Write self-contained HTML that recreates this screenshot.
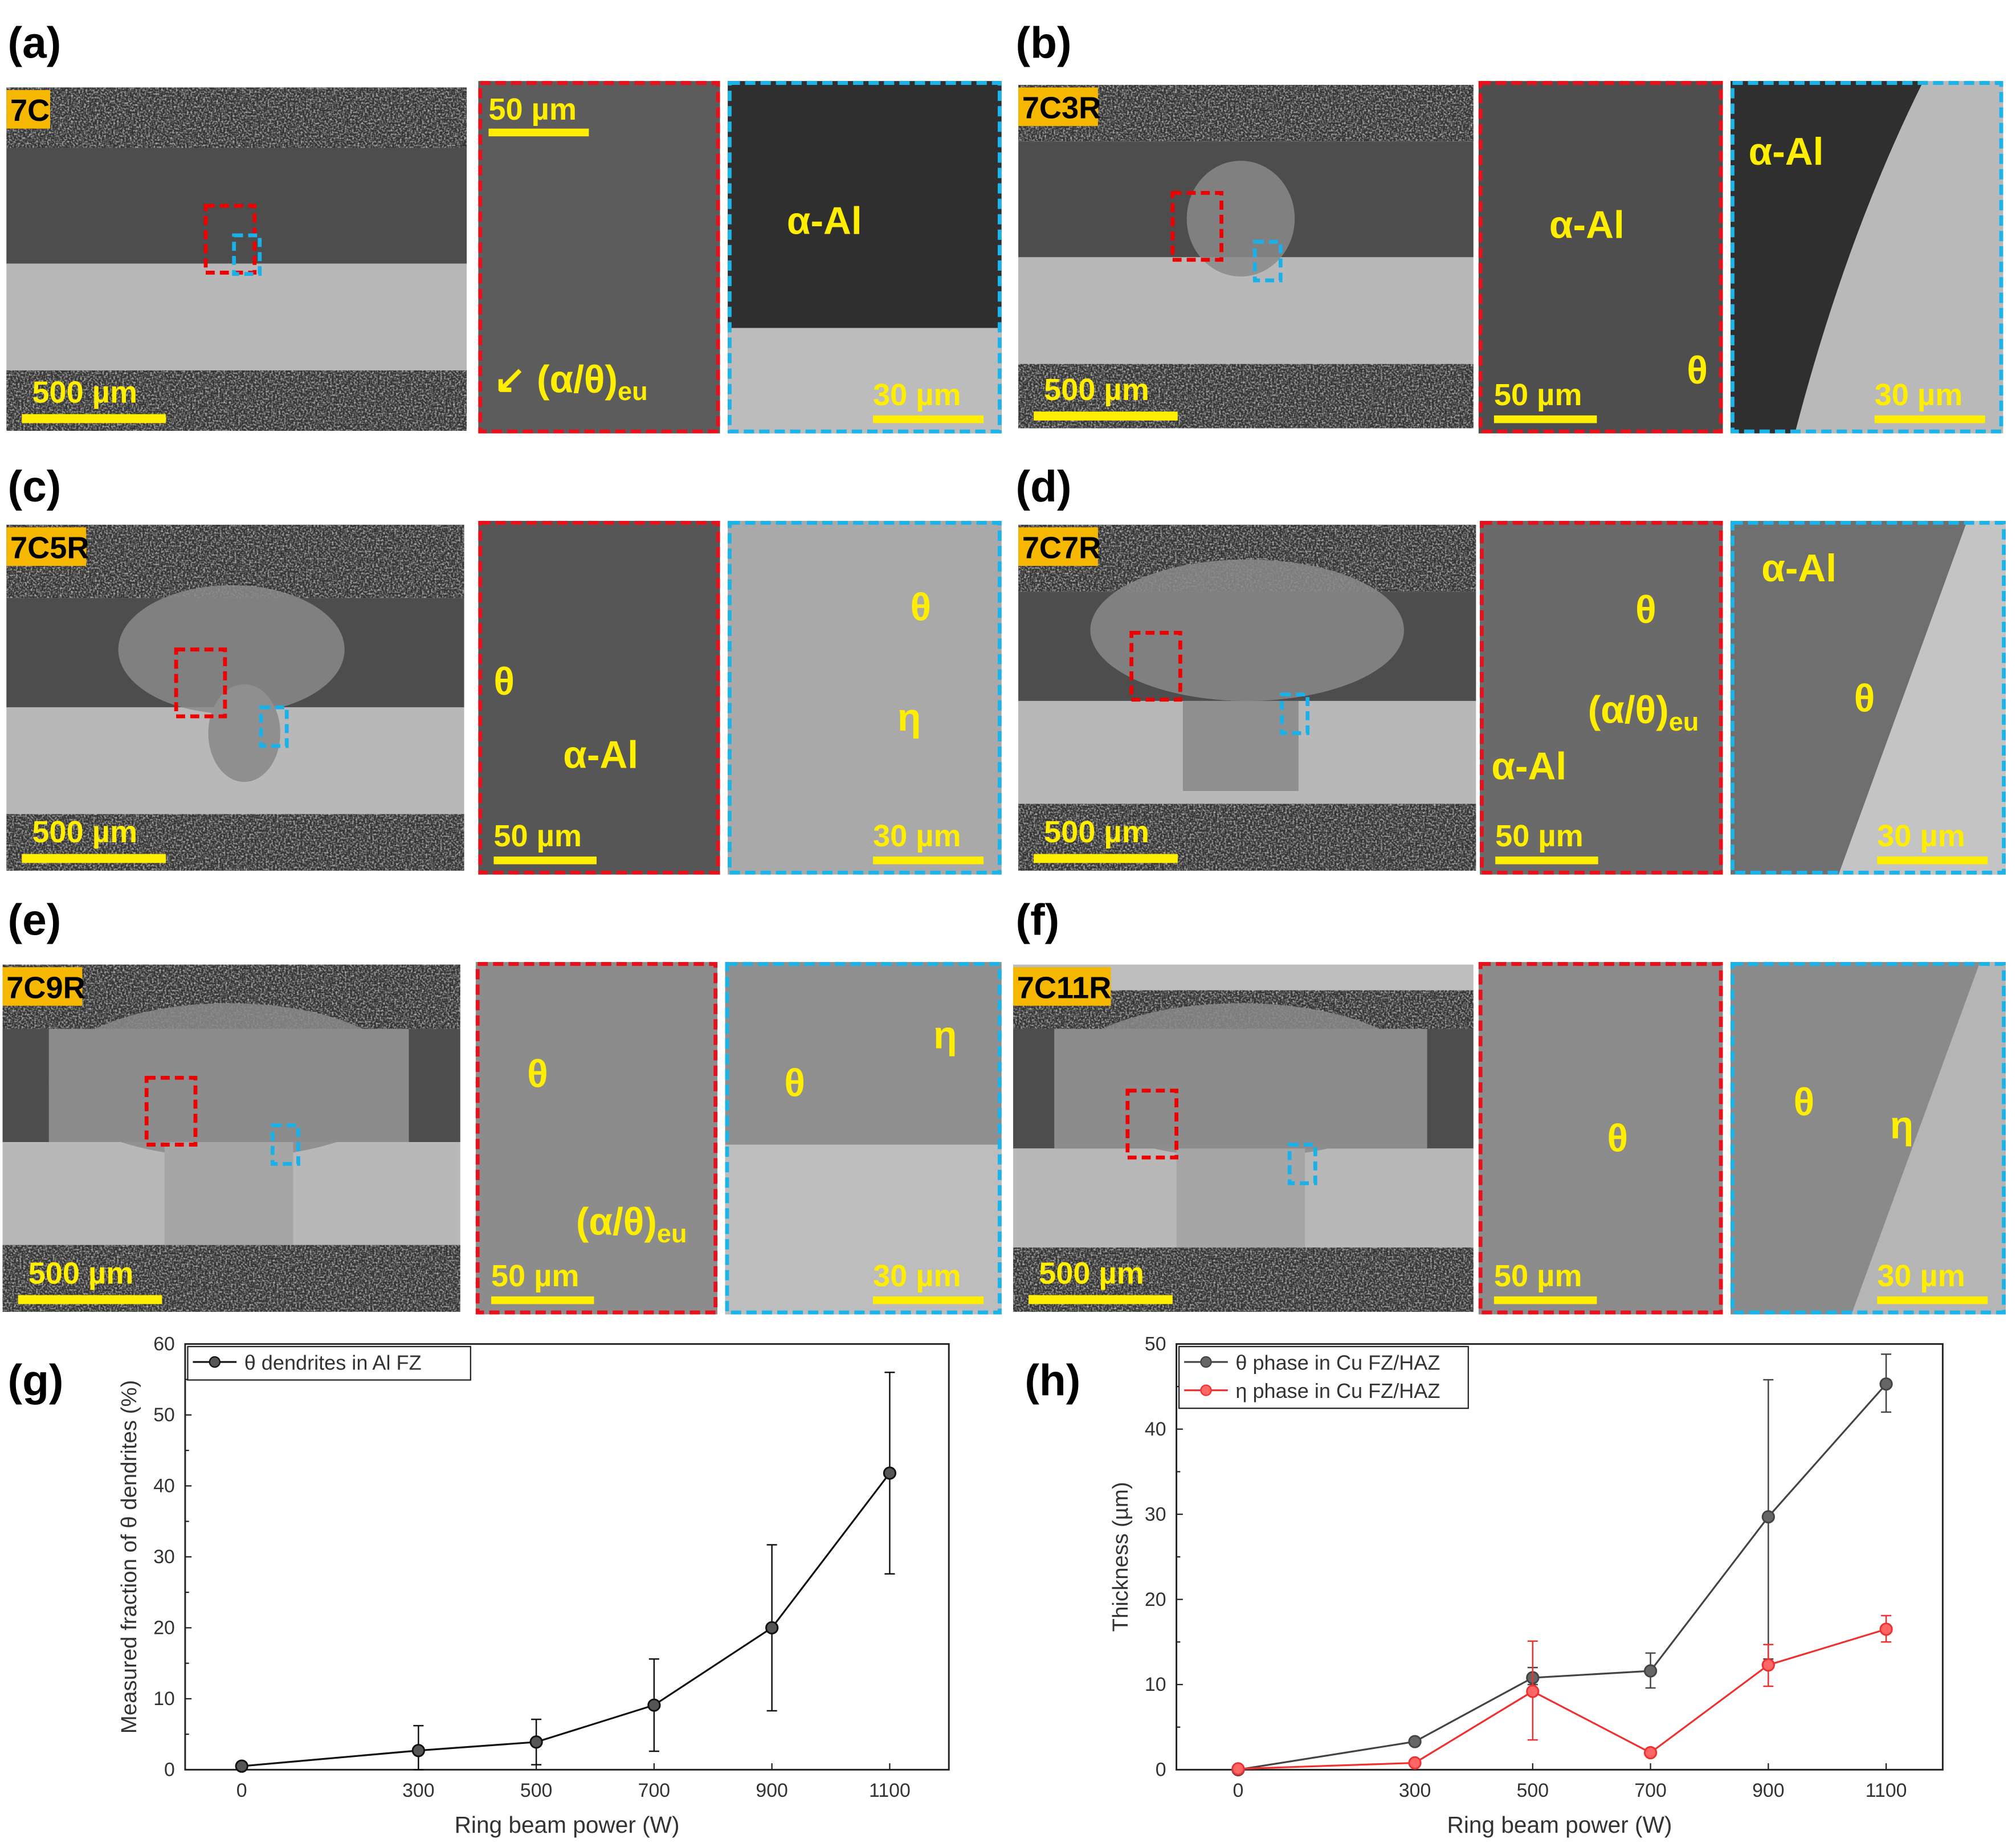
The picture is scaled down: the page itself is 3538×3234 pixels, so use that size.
<!DOCTYPE html>
<html><head><meta charset="utf-8"><style>
html,body{margin:0;padding:0;background:#fff;}
svg{display:block;}
text{font-family:"Liberation Sans",sans-serif;}
</style></head><body>
<svg id="fig" xmlns="http://www.w3.org/2000/svg" width="3538" height="3234" viewBox="0 0 1568 1433" preserveAspectRatio="none">
<defs>
<filter id="noise" x="0" y="0" width="100%" height="100%">
<feTurbulence type="fractalNoise" baseFrequency="0.7" numOctaves="2" seed="3"/>
<feColorMatrix type="matrix" values="0 0 0 0 0.55  0 0 0 0 0.55  0 0 0 0 0.55  2.2 0 0 0 -0.9"/>
</filter>
</defs>
<g id="micro"></g>
<g id="chartG"></g>
<g id="chartH"></g>
</svg>
<script>
const NS='http://www.w3.org/2000/svg';
function mk(parent,tag,attrs,txt){const e=document.createElementNS(NS,tag);for(const k in attrs)e.setAttribute(k,attrs[k]);if(txt!==undefined)e.textContent=txt;parent.appendChild(e);return e;}
const micro=document.getElementById('micro');

// ---------- micrograph panels ----------
const mains=[
 {id:'a',lab:'7C',x:5,y:68,w:358,h:267,b:[115,205,288],top:'#333',fz:null,rb:[160,160],bb:[182,183]},
 {id:'b',lab:'7C3R',x:792,y:66,w:354,h:267,b:[110,200,283],top:'#333',fz:[965,170,42,45],rb:[912,150],bb:[976,188]},
 {id:'c',lab:'7C5R',x:5,y:408,w:356,h:269,b:[465,550,633],top:'#333',fz:[180,505,88,50],rb:[137,505],bb:[203,550]},
 {id:'d',lab:'7C7R',x:792,y:408,w:356,h:269,b:[460,545,625],top:'#333',fz:[970,490,122,55],rb:[880,492],bb:[997,540]},
 {id:'e',lab:'7C9R',x:2,y:750,w:356,h:270,b:[800,888,968],top:'#333',fz:[178,840,140,60],rb:[114,838],bb:[212,875]},
 {id:'f',lab:'7C11R',x:788,y:750,w:358,h:270,b:[800,893,970],top:'#bdbdbd',fz:[965,840,145,60],rb:[877,848],bb:[1003,890]}
];
mains.forEach(p=>{
 const g=mk(micro,'g',{});
 
 
 mk(g,'rect',{x:p.x,y:p.y,width:p.w,height:p.b[0]-p.y,fill:p.top});
 if(p.id!=='f') mk(g,'rect',{x:p.x,y:p.y,width:p.w,height:p.b[0]-p.y,filter:'url(#noise)'});
 else {mk(g,'rect',{x:p.x,y:p.y+20,width:p.w,height:p.b[0]-p.y-20,fill:'#333'});mk(g,'rect',{x:p.x,y:p.y+20,width:p.w,height:p.b[0]-p.y-20,filter:'url(#noise)'});}
 mk(g,'rect',{x:p.x,y:p.b[0],width:p.w,height:p.b[1]-p.b[0],fill:'#4d4d4d'});
 mk(g,'rect',{x:p.x,y:p.b[1],width:p.w,height:p.b[2]-p.b[1],fill:'#b8b8b8'});
 mk(g,'rect',{x:p.x,y:p.b[2],width:p.w,height:p.y+p.h-p.b[2],fill:'#333'});
 mk(g,'rect',{x:p.x,y:p.b[2],width:p.w,height:p.y+p.h-p.b[2],filter:'url(#noise)'});
 if(p.fz){const [cx,cy,rx,ry]=p.fz;mk(g,'ellipse',{cx:cx,cy:cy,rx:rx,ry:ry,fill:'#8a8a8a',opacity:0.85});
  if(p.id==='e'||p.id==='f'){mk(g,'rect',{x:cx-rx,y:p.b[0],width:rx*2,height:p.b[1]-p.b[0],fill:'#8c8c8c'});mk(g,'rect',{x:cx-50,y:p.b[1],width:100,height:p.b[2]-p.b[1],fill:'#a6a6a6'});}
  if(p.id==='d'){mk(g,'rect',{x:cx-50,y:p.b[1],width:90,height:p.b[2]-p.b[1]-10,fill:'#8f8f8f'});}
  if(p.id==='c'){mk(g,'ellipse',{cx:cx+10,cy:p.b[1]+20,rx:28,ry:38,fill:'#8f8f8f'});}
 }
 const bw=p.lab.length*14+6;
 mk(g,'rect',{x:p.x,y:p.y+2,width:bw,height:30,fill:'#f5b700'});
 const lt=mk(g,'text',{x:p.x+3,y:p.y+26,'font-size':24,'font-weight':'bold',fill:'#000'},p.lab);
 
 
 mk(g,'text',{x:p.x+20,y:p.y+p.h-22,'font-size':24,'font-weight':'bold',fill:'#ffee00'},'500 µm');
 mk(g,'rect',{x:p.x+12,y:p.y+p.h-13,width:112,height:7,fill:'#ffee00'});
 mk(g,'rect',{x:p.rb[0],y:p.rb[1],width:38,height:52,fill:'none',stroke:'#e00',"stroke-width":3,"stroke-dasharray":"7,4"});
 mk(g,'rect',{x:p.bb[0],y:p.bb[1],width:20,height:30,fill:'none',stroke:'#1ab0e8',"stroke-width":3,"stroke-dasharray":"7,4"});
});

const insets=[
 {k:'a-red',x:372,y:63,w:188,h:274,c:'red',fill:'#5c5c5c',sb:'50 µm',top:true,labels:[['↙ (α/θ)eu',384,305]]},
 {k:'a-blue',x:566,y:63,w:213,h:274,c:'blue',fill:'#2f2f2f',low:'#bcbcbc',lowy:255,sb:'30 µm',labels:[['α-Al',612,182]]},
 {k:'b-red',x:1150,y:63,w:190,h:274,c:'red',fill:'#4e4e4e',sb:'50 µm',labels:[['α-Al',1205,185],['θ',1312,298]]},
 {k:'b-blue',x:1346,y:63,w:212,h:274,c:'blue',fill:'#b9b9b9',dark:true,sb:'30 µm',labels:[['α-Al',1360,128]]},
 {k:'c-red',x:372,y:405,w:188,h:275,c:'red',fill:'#565656',sb:'50 µm',labels:[['θ',384,540],['α-Al',438,597]]},
 {k:'c-blue',x:566,y:405,w:213,h:275,c:'blue',fill:'#a9a9a9',sb:'30 µm',labels:[['θ',708,482],['η',698,568]]},
 {k:'d-red',x:1151,y:405,w:189,h:275,c:'red',fill:'#6a6a6a',sb:'50 µm',labels:[['θ',1272,484],['(α/θ)eu',1235,562],['α-Al',1160,606]]},
 {k:'d-blue',x:1346,y:405,w:214,h:275,c:'blue',fill:'#6f6f6f',low:'#c4c4c4',lowx:1470,sb:'30 µm',labels:[['α-Al',1370,452],['θ',1442,553]]},
 {k:'e-red',x:370,y:748,w:188,h:274,c:'red',fill:'#8c8c8c',sb:'50 µm',labels:[['θ',410,845],['(α/θ)eu',448,960]]},
 {k:'e-blue',x:564,y:748,w:215,h:274,c:'blue',fill:'#8f8f8f',low:'#bdbdbd',lowy:890,sb:'30 µm',labels:[['θ',610,852],['η',726,815]]},
 {k:'f-red',x:1150,y:748,w:190,h:274,c:'red',fill:'#8b8b8b',sb:'50 µm',labels:[['θ',1250,895]]},
 {k:'f-blue',x:1346,y:748,w:214,h:274,c:'blue',fill:'#8a8a8a',low:'#b5b5b5',lowx:1480,sb:'30 µm',labels:[['θ',1395,867],['η',1470,885]]}
];
insets.forEach(s=>{
 const g=mk(micro,'g',{});
 
 
 mk(g,'rect',{x:s.x,y:s.y,width:s.w,height:s.h,fill:s.fill});
 if(s.low&&s.lowy) mk(g,'rect',{x:s.x,y:s.lowy,width:s.w,height:s.y+s.h-s.lowy,fill:s.low});
 if(s.low&&s.lowx) mk(g,'path',{d:`M${s.lowx+60} ${s.y} L${s.x+s.w} ${s.y} L${s.x+s.w} ${s.y+s.h} L${s.lowx-40} ${s.y+s.h} Z`,fill:s.low});
 if(s.dark) mk(g,'path',{d:`M${s.x} ${s.y} L${s.x+150} ${s.y} Q${s.x+90} ${s.y+120} ${s.x+50} ${s.y+s.h} L${s.x} ${s.y+s.h} Z`,fill:'#2f2f2f'});
 mk(g,'rect',{x:s.x+1.5,y:s.y+1.5,width:s.w-3,height:s.h-3,fill:'none',stroke:s.c==='red'?'#e8101a':'#1ab4ea','stroke-width':3,'stroke-dasharray':'8,4'});
 const r=s.x+s.w;
 if(s.top){mk(g,'text',{x:s.x+8,y:s.y+30,'font-size':24,'font-weight':'bold',fill:'#ffee00'},s.sb);mk(g,'rect',{x:s.x+8,y:s.y+37,width:78,height:6,fill:'#ffee00'});}
 else if(s.c==='red'){mk(g,'text',{x:s.x+12,y:s.y+s.h-22,'font-size':24,'font-weight':'bold',fill:'#ffee00'},s.sb);mk(g,'rect',{x:s.x+12,y:s.y+s.h-14,width:80,height:6,fill:'#ffee00'});}
 else {mk(g,'text',{x:r-100,y:s.y+s.h-22,'font-size':24,'font-weight':'bold',fill:'#ffee00'},s.sb);mk(g,'rect',{x:r-100,y:s.y+s.h-14,width:86,height:6,fill:'#ffee00'});}
 s.labels.forEach(l=>{
  const t=mk(g,'text',{x:l[1],y:l[2],'font-size':30,'font-weight':'bold',fill:'#ffee00'});
  if(l[0].endsWith('eu')){t.textContent=l[0].slice(0,-2);mk(t,'tspan',{'font-size':20,dy:6},'eu');}
  else t.textContent=l[0];
  
  
 });
});
[['(a)',6,45],['(b)',790,45],['(c)',6,390],['(d)',790,390],['(e)',6,727],['(f)',790,727],['(g)',6,1085],['(h)',797,1085]].forEach(p=>{
 const t=mk(micro,'text',{x:p[1],y:p[2],'font-size':34,'font-weight':'bold',fill:'#000'},p[0]);
 
 
});

// ---------- chart data ----------
const powers=[0,300,500,700,900,1100];
const xTicks=[0,300,500,700,900,1100];
const gValues=[0.5,2.7,3.9,9.1,20.0,41.8];
const gErrLow=[0.2,0.0,0.7,2.6,8.3,27.6];
const gErrHigh=[0.9,6.2,7.1,15.6,31.7,56.0];
const gYTicks=[0,10,20,30,40,50,60];
const hTheta=[0,3.3,10.8,11.6,29.7,45.3];
const hThetaLow=[0,3.0,10.0,9.6,13.0,42.0];
const hThetaHigh=[0,3.6,12.0,13.7,45.8,48.8];
const hEta=[0.1,0.8,9.2,2.0,12.3,16.5];
const hEtaLow=[0,0.6,3.5,1.6,9.8,15.0];
const hEtaHigh=[0.2,1.0,15.1,2.4,14.7,18.1];
const hYTicks=[0,10,20,30,40,50];

function chart(gid,box,x0px,x1100px,ymax,yTicks,series,yTitle,legend,legW){
 const g=document.getElementById(gid);
 const X=v=>x0px+(x1100px-x0px)*v/1100;
 const Y=v=>box.y1-(box.y1-box.y0)*v/ymax;
 const fr=mk(g,'rect',{x:box.x0,y:box.y0,width:box.x1-box.x0,height:box.y1-box.y0,fill:'none',stroke:'#222','stroke-width':1.3});
 
 
 yTicks.forEach(v=>{
  mk(g,'line',{x1:box.x0,x2:box.x0+5,y1:Y(v),y2:Y(v),stroke:'#222','stroke-width':1});
  const t=mk(g,'text',{x:box.x0-8,y:Y(v)+5,'font-size':15,'text-anchor':'end',fill:'#333'},v);
  
  
 });
 for(let i=0;i<yTicks.length-1;i++){const m=(yTicks[i]+yTicks[i+1])/2;mk(g,'line',{x1:box.x0,x2:box.x0+3,y1:Y(m),y2:Y(m),stroke:'#222','stroke-width':1});}
 xTicks.forEach(v=>{
  mk(g,'line',{x1:X(v),x2:X(v),y1:box.y1,y2:box.y1-5,stroke:'#222','stroke-width':1});
  const t=mk(g,'text',{x:X(v),y:box.y1+21,'font-size':15,'text-anchor':'middle',fill:'#333'},v);
  
  
 });
 const xt=mk(g,'text',{x:(box.x0+box.x1)/2,y:box.y1+49,'font-size':18,'text-anchor':'middle',fill:'#333'},'Ring beam power (W)');
 
 
 const yx=box.x0-38, yy=(box.y0+box.y1)/2;
 const yt=mk(g,'text',{x:yx,y:yy,'font-size':17,'text-anchor':'middle',fill:'#333',transform:`rotate(-90 ${yx} ${yy})`},yTitle);
 
 
 series.forEach(s=>{
  const sg=mk(g,'g',{});
  
  
  mk(sg,'polyline',{points:powers.map((p,i)=>X(p)+','+Y(s.v[i])).join(' '),fill:'none',stroke:s.c,'stroke-width':1.4});
  powers.forEach((p,i)=>{
   const x=X(p);
   mk(sg,'line',{x1:x,x2:x,y1:Y(s.lo[i]),y2:Y(s.hi[i]),stroke:s.c,'stroke-width':1.1});
   mk(sg,'line',{x1:x-4,x2:x+4,y1:Y(s.lo[i]),y2:Y(s.lo[i]),stroke:s.c,'stroke-width':1.1});
   mk(sg,'line',{x1:x-4,x2:x+4,y1:Y(s.hi[i]),y2:Y(s.hi[i]),stroke:s.c,'stroke-width':1.1});
   const pt=mk(sg,'circle',{cx:x,cy:Y(s.v[i]),r:4.5,fill:s.fill,stroke:s.c,'stroke-width':1.3});
   
   
  });
 });
 const lg=mk(g,'g',{});
 
 
 mk(lg,'rect',{x:box.x0+2,y:box.y0+2,width:legW,height:22*legend.length+4,fill:'#fff',stroke:'#222','stroke-width':1});
 legend.forEach((l,i)=>{
  const ly=box.y0+14+22*i;
  mk(lg,'line',{x1:box.x0+6,x2:box.x0+40,y1:ly,y2:ly,stroke:l.c,'stroke-width':1.4});
  mk(lg,'circle',{cx:box.x0+23,cy:ly,r:4,fill:l.fill,stroke:l.c});
  const t=mk(lg,'text',{x:box.x0+46,y:ly+6,'font-size':16,fill:'#333'},l.t);
  
  
 });
}
chart('chartG',{x0:144,x1:738,y0:1045,y1:1376},188,692,60,gYTicks,
 [{name:'theta-dendrites',v:gValues,lo:gErrLow,hi:gErrHigh,c:'#111',fill:'#555'}],
 'Measured fraction of θ dendrites (%)',[{t:'θ dendrites in Al FZ',c:'#111',fill:'#555'}],220);
chart('chartH',{x0:915,x1:1511,y0:1045,y1:1376},963,1467,50,hYTicks,
 [{name:'theta-phase',v:hTheta,lo:hThetaLow,hi:hThetaHigh,c:'#444',fill:'#666'},
  {name:'eta-phase',v:hEta,lo:hEtaLow,hi:hEtaHigh,c:'#f03030',fill:'#f66'}],
 'Thickness (µm)',[{t:'θ phase in Cu FZ/HAZ',c:'#444',fill:'#666'},{t:'η phase in Cu FZ/HAZ',c:'#f03030',fill:'#f66'}],225);
</script>
</body></html>
